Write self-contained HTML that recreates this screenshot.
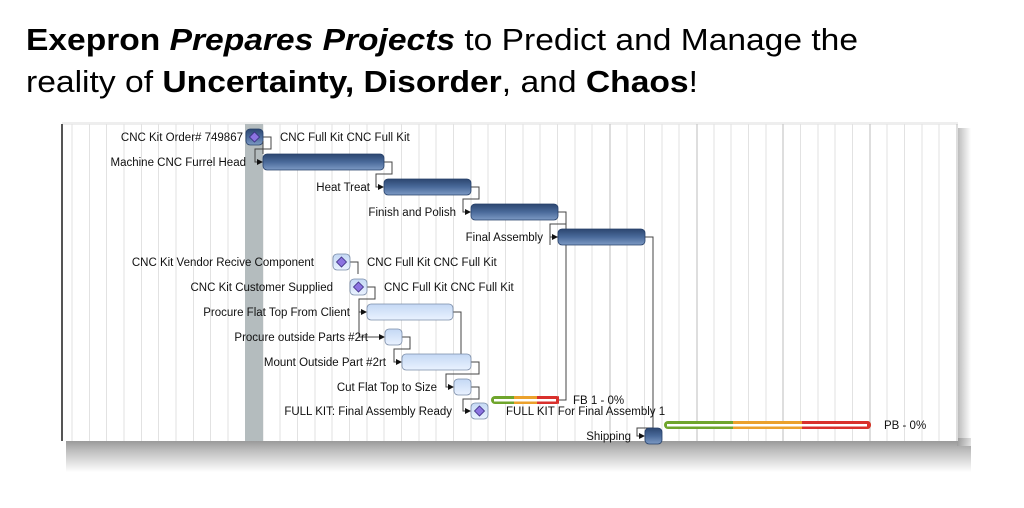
<!DOCTYPE html>
<html><head><meta charset="utf-8"><style>
html,body{margin:0;padding:0;background:#fff;}
svg{display:block;}
</style></head><body>
<svg width="1024" height="508" viewBox="0 0 1024 508" xmlns="http://www.w3.org/2000/svg" font-family="Liberation Sans, Arial, sans-serif">
<defs>
<linearGradient id="shadow" x1="0" y1="0" x2="0" y2="1">
<stop offset="0" stop-color="#7a7a7a"/><stop offset="0.35" stop-color="#b0b0b0"/><stop offset="1" stop-color="#fff"/>
</linearGradient>
<linearGradient id="rshadow" x1="0" y1="0" x2="1" y2="0">
<stop offset="0" stop-color="#999"/><stop offset="1" stop-color="#fff"/>
</linearGradient>
<linearGradient id="dark" x1="0" y1="0" x2="0" y2="1">
<stop offset="0" stop-color="#2c4670"/><stop offset="0.5" stop-color="#4a6a9a"/><stop offset="1" stop-color="#7d9ac4"/>
</linearGradient>
<linearGradient id="light" x1="0" y1="0" x2="0" y2="1">
<stop offset="0" stop-color="#c4d8f4"/><stop offset="1" stop-color="#eaf2ff"/>
</linearGradient>
</defs>
<text x="26" y="50" font-size="31" fill="#000" textLength="832" lengthAdjust="spacingAndGlyphs"><tspan font-weight="bold">Exepron </tspan><tspan font-weight="bold" font-style="italic">Prepares Projects</tspan> to Predict and Manage the</text>
<text x="26" y="92" font-size="31" fill="#000" textLength="672" lengthAdjust="spacingAndGlyphs">reality of <tspan font-weight="bold">Uncertainty, Disorder</tspan>, and <tspan font-weight="bold">Chaos</tspan>!</text>

<!-- shadow -->
<rect x="66" y="438" width="905" height="34" fill="url(#shadow)" opacity="0.85"/>
<rect x="957" y="128" width="14" height="318" fill="url(#rshadow)" opacity="0.7"/>
<!-- chart bg -->
<rect x="62" y="124" width="896" height="317" fill="#fff"/>
<rect x="62" y="122" width="896" height="3" fill="#eee"/>
<g stroke="#e2e2e2" stroke-width="1">
<line x1="72" y1="124" x2="72" y2="441"/><line x1="89.5" y1="124" x2="89.5" y2="441"/><line x1="106.5" y1="124" x2="106.5" y2="441"/><line x1="124" y1="124" x2="124" y2="441"/><line x1="141.5" y1="124" x2="141.5" y2="441"/><line x1="158.5" y1="124" x2="158.5" y2="441"/><line x1="176" y1="124" x2="176" y2="441"/><line x1="193.5" y1="124" x2="193.5" y2="441"/><line x1="210.5" y1="124" x2="210.5" y2="441"/><line x1="228" y1="124" x2="228" y2="441"/><line x1="263" y1="124" x2="263" y2="441"/><line x1="280" y1="124" x2="280" y2="441"/><line x1="297.5" y1="124" x2="297.5" y2="441"/><line x1="315" y1="124" x2="315" y2="441"/><line x1="332" y1="124" x2="332" y2="441"/><line x1="349.5" y1="124" x2="349.5" y2="441"/><line x1="367" y1="124" x2="367" y2="441"/><line x1="384" y1="124" x2="384" y2="441"/><line x1="401.5" y1="124" x2="401.5" y2="441"/><line x1="419" y1="124" x2="419" y2="441"/><line x1="436" y1="124" x2="436" y2="441"/><line x1="453.5" y1="124" x2="453.5" y2="441"/><line x1="471" y1="124" x2="471" y2="441"/><line x1="488" y1="124" x2="488" y2="441"/><line x1="505.5" y1="124" x2="505.5" y2="441"/><line x1="523" y1="124" x2="523" y2="441"/><line x1="540" y1="124" x2="540" y2="441"/><line x1="557.5" y1="124" x2="557.5" y2="441"/><line x1="575" y1="124" x2="575" y2="441"/><line x1="592" y1="124" x2="592" y2="441"/><line x1="627" y1="124" x2="627" y2="441"/><line x1="644.5" y1="124" x2="644.5" y2="441"/><line x1="662" y1="124" x2="662" y2="441"/><line x1="679" y1="124" x2="679" y2="441"/><line x1="714" y1="124" x2="714" y2="441"/><line x1="731" y1="124" x2="731" y2="441"/><line x1="748.5" y1="124" x2="748.5" y2="441"/><line x1="766" y1="124" x2="766" y2="441"/><line x1="800.5" y1="124" x2="800.5" y2="441"/><line x1="818" y1="124" x2="818" y2="441"/><line x1="835" y1="124" x2="835" y2="441"/><line x1="852.5" y1="124" x2="852.5" y2="441"/><line x1="887" y1="124" x2="887" y2="441"/><line x1="904.5" y1="124" x2="904.5" y2="441"/><line x1="922" y1="124" x2="922" y2="441"/><line x1="939" y1="124" x2="939" y2="441"/>
</g>
<g stroke="#bdbdbd" stroke-width="1">
<line x1="610" y1="124" x2="610" y2="441"/><line x1="697" y1="124" x2="697" y2="441"/><line x1="783" y1="124" x2="783" y2="441"/><line x1="870" y1="124" x2="870" y2="441"/><line x1="957" y1="124" x2="957" y2="441"/>
</g>
<line x1="62" y1="124" x2="62" y2="441" stroke="#555" stroke-width="2"/>
<rect x="245" y="124" width="18" height="317" fill="#b4bcbe"/>

<!-- connectors -->
<g fill="none" stroke="#444" stroke-width="1">
<path d="M263 137 H271 V149 H255 V162 H262"/>
<path d="M384 162 H392 V174 H376 V187 H383"/>
<path d="M471 187 H479 V199 H463 V212 H470"/>
<path d="M558 212 H566 V224 H550 V237 H557"/>
<path d="M558 237 H550 V245 M566 224 V249 H566 V400 H559"/>
<path d="M645 237 H653 V428 H637 V436 H644"/>
<path d="M350 262 H358 V274 M367 287 H375 V299 H359 V312 H366 M359 299 V337 H384"/>
<path d="M453 312 H461 V370 M402 337 H410 V349 H394 V362 H401"/>
<path d="M471 362 H479 V374 H446 V387 H453"/>
<path d="M471 387 H479 V399 H463 V411 H470"/>
</g>
<g fill="#111">
<path d="M263 162 l-6 -3 v6z"/><path d="M384 187 l-6 -3 v6z"/><path d="M471 212 l-6 -3 v6z"/><path d="M558 237 l-6 -3 v6z"/>
<path d="M367 312 l-6 -3 v6z"/><path d="M385 337 l-6 -3 v6z"/><path d="M402 362 l-6 -3 v6z"/><path d="M454 387 l-6 -3 v6z"/><path d="M471 411 l-6 -3 v6z"/><path d="M645 436 l-6 -3 v6z"/>
</g>

<!-- bars -->
<g stroke="#26406a" stroke-width="0.8">
<rect x="263" y="154" width="121" height="16" rx="4" fill="url(#dark)"/>
<rect x="384" y="179" width="87" height="16" rx="4" fill="url(#dark)"/>
<rect x="471" y="204" width="87" height="16" rx="4" fill="url(#dark)"/>
<rect x="558" y="229" width="87" height="16" rx="4" fill="url(#dark)"/>
<rect x="645" y="428" width="17" height="16" rx="4" fill="url(#dark)"/>
<rect x="246" y="129" width="17" height="16" rx="4" fill="url(#dark)"/>
</g>
<g stroke="#7a8ca8" stroke-width="0.8">
<rect x="333" y="254" width="17" height="16" rx="4" fill="url(#light)"/>
<rect x="350" y="279" width="17" height="16" rx="4" fill="url(#light)"/>
<rect x="367" y="304" width="86" height="16" rx="4" fill="url(#light)"/>
<rect x="385" y="329" width="17" height="16" rx="4" fill="url(#light)"/>
<rect x="402" y="354" width="69" height="16" rx="4" fill="url(#light)"/>
<rect x="454" y="379" width="17" height="16" rx="4" fill="url(#light)"/>
<rect x="471" y="403" width="17" height="16" rx="4" fill="url(#light)"/>
</g>
<g fill="#8b73e0" stroke="#3a2e80" stroke-width="0.8">
<path d="M254.5 132 l5 5 l-5 5 l-5 -5z"/>
<path d="M341.5 257 l5 5 l-5 5 l-5 -5z"/>
<path d="M358.5 282 l5 5 l-5 5 l-5 -5z"/>
<path d="M479.5 406 l5 5 l-5 5 l-5 -5z"/>
</g>
<line x1="263" y1="141" x2="263" y2="154" stroke="#444"/>

<!-- buffers -->
<g>
<rect x="491" y="396" width="68" height="8" rx="4" fill="#6fa52c"/>
<rect x="514" y="396" width="23" height="8" fill="#eba12c"/>
<rect x="537" y="396" width="20" height="8" fill="#d9302c"/>
<rect x="557" y="396" width="2" height="8" rx="1" fill="#d9302c"/>
<rect x="494" y="399" width="62" height="2.5" fill="#fff"/>
<rect x="664" y="421" width="207" height="8" rx="4" fill="#6fa52c"/>
<rect x="733" y="421" width="69" height="8" fill="#eba12c"/>
<rect x="802" y="421" width="65" height="8" fill="#d9302c"/>
<rect x="864" y="421" width="7" height="8" rx="4" fill="#d9302c"/>
<rect x="667" y="424" width="200" height="2.5" fill="#fff"/>
</g>

<!-- labels -->
<g font-size="11.5" fill="#111">
<text x="243" y="141" text-anchor="end">CNC Kit Order# 749867</text>
<text x="280" y="141">CNC Full Kit CNC Full Kit</text>
<text x="246" y="166" text-anchor="end">Machine CNC Furrel Head</text>
<text x="370" y="191" text-anchor="end">Heat Treat</text>
<text x="456" y="216" text-anchor="end">Finish and Polish</text>
<text x="543" y="241" text-anchor="end">Final Assembly</text>
<text x="314" y="266" text-anchor="end">CNC Kit Vendor Recive Component</text>
<text x="367" y="266">CNC Full Kit CNC Full Kit</text>
<text x="333" y="291" text-anchor="end">CNC Kit Customer Supplied</text>
<text x="384" y="291">CNC Full Kit CNC Full Kit</text>
<text x="350" y="316" text-anchor="end">Procure Flat Top From Client</text>
<text x="368" y="341" text-anchor="end">Procure outside Parts #2rt</text>
<text x="386" y="366" text-anchor="end">Mount Outside Part #2rt</text>
<text x="437" y="391" text-anchor="end">Cut Flat Top to Size</text>
<text x="573" y="404">FB 1 - 0%</text>
<text x="452" y="415" text-anchor="end">FULL KIT: Final Assembly Ready</text>
<text x="506" y="415">FULL KIT For Final Assembly 1</text>
<text x="884" y="429">PB - 0%</text>
<text x="631" y="440" text-anchor="end">Shipping</text>
</g>
</svg>
</body></html>
